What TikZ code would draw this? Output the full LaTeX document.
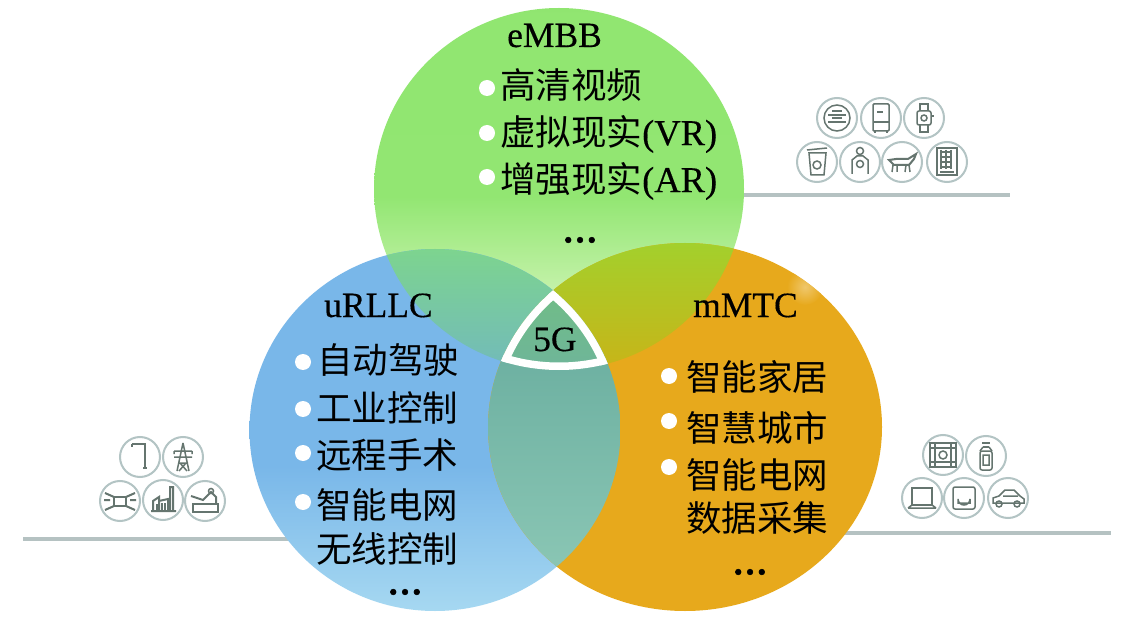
\documentclass[tikz,border=0pt]{standalone}
\usepackage{fontspec}
\setmainfont[FakeBold=0.35]{Liberation Serif}
\newfontfamily\dotfont[FakeBold=1.6]{Liberation Serif Bold}
\newfontfamily\cjk{Noto Sans CJK SC}
\definecolor{gA}{HTML}{C8F3AE}
\definecolor{gB}{HTML}{92E672}
\definecolor{gC}{HTML}{8FE56F}
\definecolor{bA}{HTML}{A6D8F1}
\definecolor{bB}{HTML}{79B7E9}
\definecolor{orangeFill}{HTML}{E7A91C}
\definecolor{ruleGray}{HTML}{B5C2C2}
\definecolor{ringGray}{HTML}{B3C4C4}
\definecolor{glyphGray}{HTML}{65756F}
\definecolor{HTMLgb1}{HTML}{7DD48F}
\definecolor{HTMLgb2}{HTML}{72BABA}
\definecolor{HTMLgo1}{HTML}{A3D02C}
\definecolor{HTMLgo2}{HTML}{C8B418}
\definecolor{HTMLbo1}{HTML}{6BAFA0}
\definecolor{HTMLbo2}{HTML}{6EB1A9}
\definecolor{HTMLbo3}{HTML}{8AC6B4}
\definecolor{HTMLc1}{HTML}{70BD85}
\definecolor{HTMLc2}{HTML}{6FB59A}
\pgfdeclareverticalshading{greenfade}{100bp}{color(0bp)=(gA); color(35bp)=(gA); color(49bp)=(gB); color(100bp)=(gC)}
\pgfdeclareverticalshading{bluefade}{100bp}{color(0bp)=(bA); color(25bp)=(bA); color(45bp)=(bB); color(100bp)=(bB)}
\newcommand{\greenpath}{(559,189) ellipse [x radius=185,y radius=181]}
\newcommand{\bluepath}{(435,430) ellipse [x radius=185.5,y radius=181]}
\newcommand{\orangepath}{(685,427) ellipse [x radius=197,y radius=184]}
\newcommand{\zh}[1]{{\cjk #1}}
\tikzset{
  lab/.style={anchor=base west,inner sep=0pt,font=\fontsize{35.5}{35}\selectfont},
  zhline/.style={anchor=west,inner sep=0pt,font=\fontsize{35.5}{36}\selectfont\cjk},
  mixline/.style={anchor=west,inner sep=0pt,font=\fontsize{36.5}{36}\selectfont},
  dotsline/.style={inner sep=0pt,font=\fontsize{35}{35}\selectfont\dotfont},
  bullet/.style={circle,fill=white,inner sep=0pt,minimum size=16pt},
  baseline rule/.style={draw=ruleGray,line width=4pt},
  ring/.style={draw=ringGray,line width=2pt,fill=white},
  gl/.style={draw=glyphGray,line width=1.5pt},
  pics/icmeter/.style={code={
    \draw[gl] (0,0) circle (13);
    \draw[gl] (-9,-3) -- (9,-3) (-9,4) -- (9,4) (-5,-7) -- (5,-7);
    \draw[gl] (-5,0) -- (5,0);}},
  pics/icfridge/.style={code={
    \draw[gl,rounded corners=1] (-8,-14) rectangle (8,13);
    \draw[gl] (-8,4) -- (8,4) (-4,-6) -- (2,-6) (-6,13) -- (-6,15) (6,13) -- (6,15);}},
  pics/icwatch/.style={code={
    \draw[gl,rounded corners=2] (-7,-7) rectangle (7,7);
    \draw[gl] (-4,-7) -- (-4,-14) -- (4,-14) -- (4,-7) (-4,7) -- (-4,14) -- (4,14) -- (4,7) (7,-2) -- (10,-2);
    \draw[gl] (0,0) circle (3);}},
  pics/icbin/.style={code={
    \draw[gl] (-8,-9) -- (-6,13) -- (7,13) -- (9,-9) -- cycle;
    \draw[gl] (-10,-12) -- (10,-14);
    \draw[gl] (0,3) circle (4);}},
  pics/icperson/.style={code={
    \draw[gl] (0,-11) circle (3.5);
    \draw[gl] (-8,12) -- (-8,-2) -- (-3,-6) -- (3,-6) -- (8,-2) -- (8,12);
    \draw[gl] (0,2) circle (3.5);}},
  pics/iccow/.style={code={
    \draw[gl,line width=2pt] (-13,-2) -- (-6,-3) -- (6,-3) -- (14,-8) -- (12,-3) -- (7,3) -- (-8,3) -- cycle;
    \draw[gl] (-9,3) -- (-10,10) (-5,3) -- (-5,10) (4,3) -- (3,10) (7,3) -- (8,10);}},
  pics/icvend/.style={code={
    \draw[gl] (-10,-14) rectangle (10,13);
    \draw[gl] (-6,-10) -- (5,-10) (-6,-5) -- (5,-5) (-6,0) -- (5,0) (-6,5) -- (5,5)
      (-6,-12) -- (-6,7) (-1,-12) -- (-1,7) (4,-12) -- (4,7) (-7,10) -- (7,10);}},
  pics/iclamp/.style={code={
    \draw[gl] (-8,-13) -- (5,-13) -- (5,11) (3,11) -- (7,11) (-8,-13) -- (-8,-10);}},
  pics/ictower/.style={code={
    \draw[gl] (0,-14) -- (-6,14) (0,-14) -- (6,14) (-9,-6) -- (9,-6) (-9,0) -- (9,0) (-5,6) -- (5,6)
      (-9,-6) -- (-9,-3) (9,-6) -- (9,-3) (-3,6) -- (4,14) (3,6) -- (-4,14);}},
  pics/icdrone/.style={code={
    \draw[gl,line width=2pt] (-6,-4) rectangle (6,5);
    \draw[gl,line width=2pt] (-6,-4) -- (-15,-8) (6,-4) -- (15,-8) (-6,5) -- (-15,9) (6,5) -- (15,9)
      (-16,-1) -- (-10,-1) (10,-1) -- (16,-1);}},
  pics/icplant/.style={code={
    \draw[gl,line width=2pt] (-12,11) -- (13,11) (-10,11) -- (-10,1) -- (-4,-3) -- (-4,11) (-4,1) -- (5,-1) -- (5,11) (7,11) -- (7,-13) -- (10,-13) -- (10,11);
    \draw[gl] (-6,4) -- (-6,10) (-1,3) -- (-1,10) (2,3) -- (2,10);}},
  pics/icarm/.style={code={
    \draw[gl] (-12,11) -- (13,11) -- (13,3) -- (-12,3) -- cycle;
    \draw[gl,line width=2pt] (-14,-5) -- (-2,-1) -- (6,-9) -- (11,-4) -- (11,3);
    \draw[gl] (6,-10) circle (2.5);}},
  pics/icfilm/.style={code={
    \draw[gl] (-13,-12) rectangle (13,12);
    \draw[gl] (-13,-7) -- (13,-7) (-13,7) -- (13,7) (-8,-12) -- (-8,12) (8,-12) -- (8,12);
    \draw[gl] (0,0) circle (4);}},
  pics/icbottle/.style={code={
    \draw[gl] (-4,-13) -- (4,-13) (-3,-9) -- (3,-9);
    \draw[gl,rounded corners=2] (-6,-5) rectangle (6,14);
    \draw[gl] (-3,-9) -- (-6,-5) (3,-9) -- (6,-5) (-3,-1) -- (3,-1) -- (3,9) -- (-3,9) -- cycle;}},
  pics/iclaptop/.style={code={
    \draw[gl] (-10,-10) rectangle (10,7);
    \draw[gl] (-14,10) -- (14,10) (-10,7) -- (-14,10) (10,7) -- (14,10);}},
  pics/icrouter/.style={code={
    \draw[gl,rounded corners=2] (-11,-11) rectangle (11,11);
    \draw[gl] (-6,5) -- (6,5) -- (6,1) arc (0:180:6) -- cycle;}},
  pics/iccar/.style={code={
    \draw[gl] (-15,5) -- (-15,0) -- (-9,-2) -- (-3,-8) -- (6,-8) -- (12,-2) -- (16,1) -- (16,5) -- cycle;
    \draw[gl] (-9,6) circle (3) (9,6) circle (3) (-5,-2) -- (10,-2);}},
}
\begin{document}
\begin{tikzpicture}[x=1pt,y=-1pt]
\useasboundingbox (0,0) rectangle (1127,636);
\fill[white] (0,0) rectangle (1127,636);
% baselines behind the circles
\coordinate (r1a) at (700,195); \coordinate (r1b) at (1010,195);
\coordinate (r2a) at (23,539);  \coordinate (r2b) at (300,539);
\coordinate (r3a) at (800,533); \coordinate (r3b) at (1111,533);
\draw[baseline rule] (r1a) -- (r1b);
\draw[baseline rule] (r2a) -- (r2b);
\draw[baseline rule] (r3a) -- (r3b);
% icons
\foreach \cx/\cy/\ic in {837/118/icmeter,881/118/icfridge,924/118/icwatch,817/162/icbin,860/162/icperson,902/162/iccow,947/162/icvend,
  140/457/iclamp,183/457/ictower,120/501/icdrone,163/500/icplant,205/501/icarm,
  943/455/icfilm,986/456/icbottle,922/498/iclaptop,964/498/icrouter,1008/498/iccar}{
  \draw[ring] (\cx,\cy) circle (20);
  \pic at (\cx,\cy) {\ic};
}
% three circles
\begin{scope}
  \clip \greenpath;
  \shade[shading=greenfade] (370,8) rectangle (750,370);
\end{scope}
\begin{scope}
  \clip \bluepath;
  \shade[shading=bluefade] (245,249) rectangle (625,611);
\end{scope}
\fill[orangeFill] \orangepath;
\begin{scope}
  \clip \orangepath;
  \shade[inner color=orangeFill!65!white,outer color=orangeFill] (805,287) circle (18);
\end{scope}
% overlaps
\begin{scope}
  \clip \greenpath; \clip \bluepath;
  \shade[top color=HTMLgb1,bottom color=HTMLgb2] (370,249) rectangle (620,370);
\end{scope}
\begin{scope}
  \clip \greenpath; \clip \orangepath;
  \shade[top color=HTMLgo1,bottom color=HTMLgo2] (500,243) rectangle (750,370);
\end{scope}
\begin{scope}
  \clip \bluepath; \clip \orangepath;
  \shade[top color=HTMLbo1,middle color=HTMLbo2,bottom color=HTMLbo3] (485,340) rectangle (625,570);
\end{scope}
% 5G centre
\begin{scope}
  \clip \greenpath; \clip \bluepath; \clip \orangepath;
  \shade[top color=HTMLc1,bottom color=HTMLc2] (490,285) rectangle (620,372);
  \draw[white,line width=15pt] \greenpath;
  \draw[white,line width=15pt] \bluepath;
  \draw[white,line width=15pt] \orangepath;
\end{scope}
% bullets
\foreach \n/\bx/\by in {a/487/88,b/487/133,c/487/177,d/303/362,e/303/409,f/303/453,g/303/502,h/669/376,i/669/421,j/669/467}{
  \node[bullet] (bul\n) at (\bx,\by) {};
}
% texts
\node[lab] (tE) at (507,47) {eMBB};
\node[zhline] (e1) at (500,85) {高清视频};
\node[mixline] (e2) at (500,134) {\fontsize{35.5}{36}\selectfont\zh{虚拟现实}\fontsize{36.5}{36}\selectfont(VR)};
\node[mixline] (e3) at (500,181) {\fontsize{35.5}{36}\selectfont\zh{增强现实}\fontsize{36.5}{36}\selectfont(AR)};
\node[dotsline] (e4) at (580,240) {…};
\node[lab] (tU) at (324,317) {uRLLC};
\node[zhline] (u1) at (317,360) {自动驾驶};
\node[zhline] (u2) at (316,408) {工业控制};
\node[zhline] (u3) at (316,455) {远程手术};
\node[zhline] (u4) at (316,505) {智能电网};
\node[zhline] (u5) at (316,549) {无线控制};
\node[dotsline] (u6) at (405,592) {…};
\node[lab] (tM) at (693,317) {mMTC};
\node[zhline] (m1) at (686,377) {智能家居};
\node[zhline] (m2) at (686,428) {智慧城市};
\node[zhline] (m3) at (686,475) {智能电网};
\node[zhline] (m4) at (686,518) {数据采集};
\node[dotsline] (m5) at (750,572) {…};
\node[lab] (t5) at (533,351) {5G};
\end{tikzpicture}
\end{document}
